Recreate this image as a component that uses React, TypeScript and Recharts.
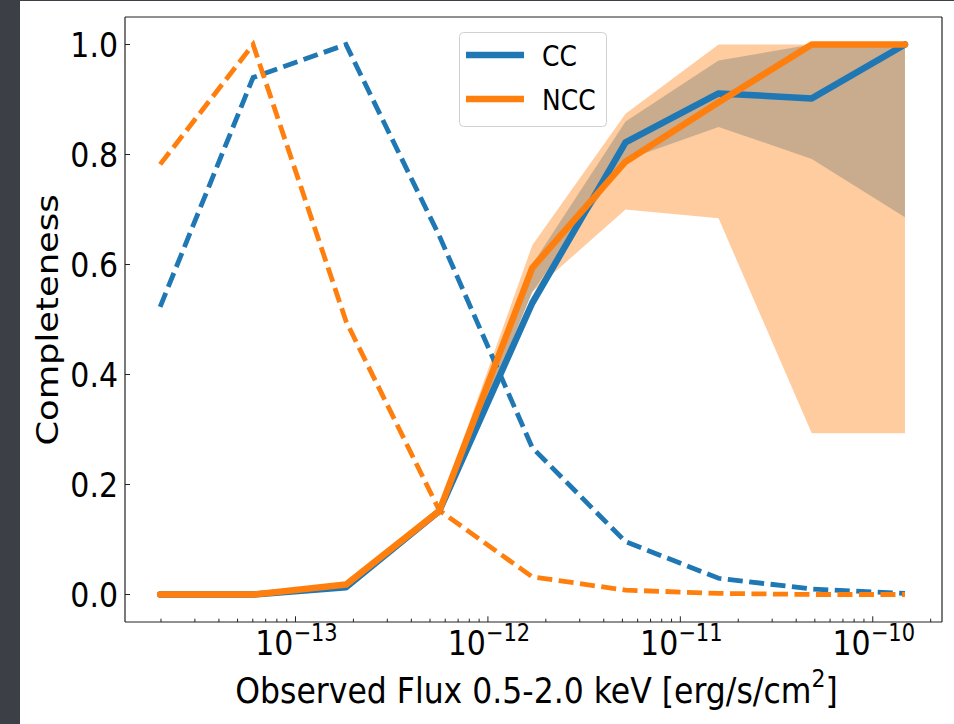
import React from 'react';
import {Area, ComposedChart, Legend, Line, XAxis, YAxis} from 'recharts';

// flux bin centres (erg/s/cm^2)
const flux = [1.98e-14, 6.02e-14, 1.83e-13, 5.59e-13, 1.70e-12, 5.19e-12, 1.58e-11, 4.82e-11, 1.47e-10];

// completeness (solid lines)
const ccComp = [0, 0, 0.013, 0.152, 0.53, 0.822, 0.911, 0.902, 1.0];
const nccComp = [0, 0, 0.018, 0.152, 0.594, 0.787, 0.895, 1.0, 1.0];

// dashed curves
const ccDashed = [0.523, 0.94, 1.0, 0.652, 0.267, 0.096, 0.0295, 0.01, 0.002];
const nccDashed = [0.782, 1.0, 0.497, 0.153, 0.032, 0.008, 0.002, 0.0, 0.0];

// uncertainty bands
const ccLow = [null, null, null, 0.145, 0.55, 0.79, 0.85, 0.792, 0.686];
const ccHigh = [null, null, null, 0.16, 0.6, 0.86, 0.971, 1.0, 1.0];
const nccLow = [null, null, null, 0.14, 0.55, 0.70, 0.684, 0.293, 0.293];
const nccHigh = [null, null, null, 0.16, 0.635, 0.874, 1.0, 1.0, 1.0];

const xMajorTicks = [1e-13, 1e-12, 1e-11, 1e-10];
const xMinorTicks = [
    2e-14, 3e-14, 4e-14, 5e-14, 6e-14, 7e-14, 8e-14, 9e-14,
    2e-13, 3e-13, 4e-13, 5e-13, 6e-13, 7e-13, 8e-13, 9e-13,
    2e-12, 3e-12, 4e-12, 5e-12, 6e-12, 7e-12, 8e-12, 9e-12,
    2e-11, 3e-11, 4e-11, 5e-11, 6e-11, 7e-11, 8e-11, 9e-11,
    2e-10,
];
const yTicks = [0, 0.2, 0.4, 0.6, 0.8, 1.0];

const xDomain = [1.3e-14, 2.29e-10];
const yDomain = [-0.05, 1.05];

const BLUE = '#1f77b4';
const ORANGE = '#ff7f0e';
const FONT = '"DejaVu Sans", sans-serif';
const STRETCH = 1.14; // the picture is a bit taller than wide

const data = flux.map((f, i) => ({
    flux: f,
    cc: ccComp[i],
    ncc: nccComp[i],
    ccDash: ccDashed[i],
    nccDash: nccDashed[i],
    ccBand: ccLow[i] == null ? null : [ccLow[i], ccHigh[i]],
    nccBand: nccLow[i] == null ? null : [nccLow[i], nccHigh[i]],
}));

const XTick = (props) => {
    const {x, y, payload} = props;
    const lg = Math.log10(payload.value);
    const exp = Math.round(lg);
    const major = Math.abs(lg - exp) < 1e-6;
    return (
        <g>
            <line x1={x} x2={x} y1={y} y2={y - (major ? 5.7 : 3.3)} stroke="#222" strokeWidth={1}/>
            {major && (
                <text transform={`translate(${x + 1},${y}) scale(1,${STRETCH})`}
                      x={0} y={29} textAnchor="middle" fontFamily={FONT} fontSize={30} fill="#000">
                    <tspan>10</tspan>
                    <tspan dy={-12} fontSize={21}>{'\u2212' + String(-exp)}</tspan>
                </text>
            )}
        </g>
    );
};

const YTick = (props) => {
    const {x, y, payload} = props;
    return (
        <g>
            <line x1={x} x2={x + 5} y1={y} y2={y} stroke="#222" strokeWidth={1}/>
            <text transform={`translate(${x - 7},${y}) scale(1,${STRETCH})`}
                  x={0} y={11.2} textAnchor="end" fontFamily={FONT} fontSize={30} fill="#000">
                {payload.value.toFixed(1)}
            </text>
        </g>
    );
};

const XLabel = (props) => {
    const vb = props.viewBox || {x: 125, y: 622, width: 817};
    const cx = vb.x + vb.width / 2 + 3;
    return (
        <text transform={`translate(${cx},${vb.y}) scale(1,${STRETCH})`}
              x={0} y={70.8} textAnchor="middle" fontFamily={FONT} fontSize={31.5} fill="#000">
            <tspan>Observed Flux 0.5-2.0 keV [erg/s/cm</tspan>
            <tspan dy={-14} fontSize={22}>2</tspan>
            <tspan dy={14}>]</tspan>
        </text>
    );
};

const YLabel = () => (
    <text transform={`translate(58,320) scale(1,${STRETCH}) rotate(-90)`}
          x={0} y={0} textAnchor="middle" fontFamily={FONT} fontSize={31} fill="#000">
        Completeness
    </text>
);

const LegendBox = (props) => {
    let items = (props.payload || []).filter((p) => p.dataKey === 'cc' || p.dataKey === 'ncc')
        .map((p) => ({name: p.value, color: p.color}));
    if (items.length === 0) {
        items = [{name: 'CC', color: BLUE}, {name: 'NCC', color: ORANGE}];
    }
    return (
        <svg width={149} height={96} style={{display: 'block'}}>
            <rect x={0.5} y={0.5} width={147} height={94} rx={4} fill="#fff" fillOpacity={0.8} stroke="#d0d0d0"/>
            {items.map((item, i) => {
                const cy = 23 + i * 44;
                return (
                    <g key={item.name}>
                        <line x1={7} x2={65} y1={cy} y2={cy} stroke={item.color} strokeWidth={6.5}/>
                        <text transform={`translate(83,${cy}) scale(1,${STRETCH})`}
                              x={0} y={9.4} fontFamily={FONT} fontSize={25} fill="#000">
                            {item.name}
                        </text>
                    </g>
                );
            })}
        </svg>
    );
};

export default function App() {
    return (
        <div style={{position: 'absolute', left: 0, top: 0, width: 954, height: 724, background: '#3c3f45'}}>
            <div style={{position: 'absolute', left: 20, top: 1, width: 934, height: 723, background: '#fff'}}/>
            <div style={{position: 'absolute', left: 0, top: 0}}>
                <ComposedChart width={954} height={724} data={data}
                               margin={{top: 16, right: 11, bottom: 101, left: 124}}>
                    <XAxis dataKey="flux" type="number" scale="log" domain={xDomain} allowDataOverflow
                           ticks={[...xMajorTicks, ...xMinorTicks]} interval={0} height={1}
                           tickSize={0} tickMargin={0} tickLine={false}
                           axisLine={{stroke: '#222', strokeWidth: 1.2}}
                           tick={<XTick/>} label={<XLabel/>}/>
                    <XAxis xAxisId="top" orientation="top" dataKey="flux" type="number" scale="log"
                           domain={xDomain} allowDataOverflow height={1} tick={false} tickLine={false}
                           axisLine={{stroke: '#222', strokeWidth: 1.2}}/>
                    <YAxis type="number" domain={yDomain} allowDataOverflow ticks={yTicks} interval={0}
                           width={1} tickSize={0} tickMargin={0} tickLine={false}
                           axisLine={{stroke: '#222', strokeWidth: 1.2}}
                           tick={<YTick/>} label={<YLabel/>}/>
                    <YAxis yAxisId="right" orientation="right" type="number" domain={yDomain} allowDataOverflow
                           width={1} tick={false} tickLine={false}
                           axisLine={{stroke: '#222', strokeWidth: 1.2}}/>

                    <Area dataKey="ccBand" type="linear" stroke="none" fill={BLUE} fillOpacity={0.4}
                          legendType="none" dot={false} activeDot={false} isAnimationActive={false}/>
                    <Area dataKey="nccBand" type="linear" stroke="none" fill={ORANGE} fillOpacity={0.4}
                          legendType="none" dot={false} activeDot={false} isAnimationActive={false}/>

                    <Line dataKey="ccDash" type="linear" stroke={BLUE} strokeWidth={4.8} strokeDasharray="15 6.5"
                          legendType="none" dot={false} activeDot={false} isAnimationActive={false}/>
                    <Line dataKey="nccDash" type="linear" stroke={ORANGE} strokeWidth={4.8} strokeDasharray="15 6.5"
                          legendType="none" dot={false} activeDot={false} isAnimationActive={false}/>

                    <Line dataKey="cc" name="CC" type="linear" stroke={BLUE} strokeWidth={6.5}
                          strokeLinecap="round" strokeLinejoin="round"
                          dot={false} activeDot={false} isAnimationActive={false}/>
                    <Line dataKey="ncc" name="NCC" type="linear" stroke={ORANGE} strokeWidth={6.5}
                          strokeLinecap="round" strokeLinejoin="round"
                          dot={false} activeDot={false} isAnimationActive={false}/>

                    <Legend layout="vertical" verticalAlign="middle" align="center"
                            wrapperStyle={{left: 459, top: 32, width: 149, height: 96}}
                            content={<LegendBox/>}/>
                </ComposedChart>
            </div>
        </div>
    );
}
